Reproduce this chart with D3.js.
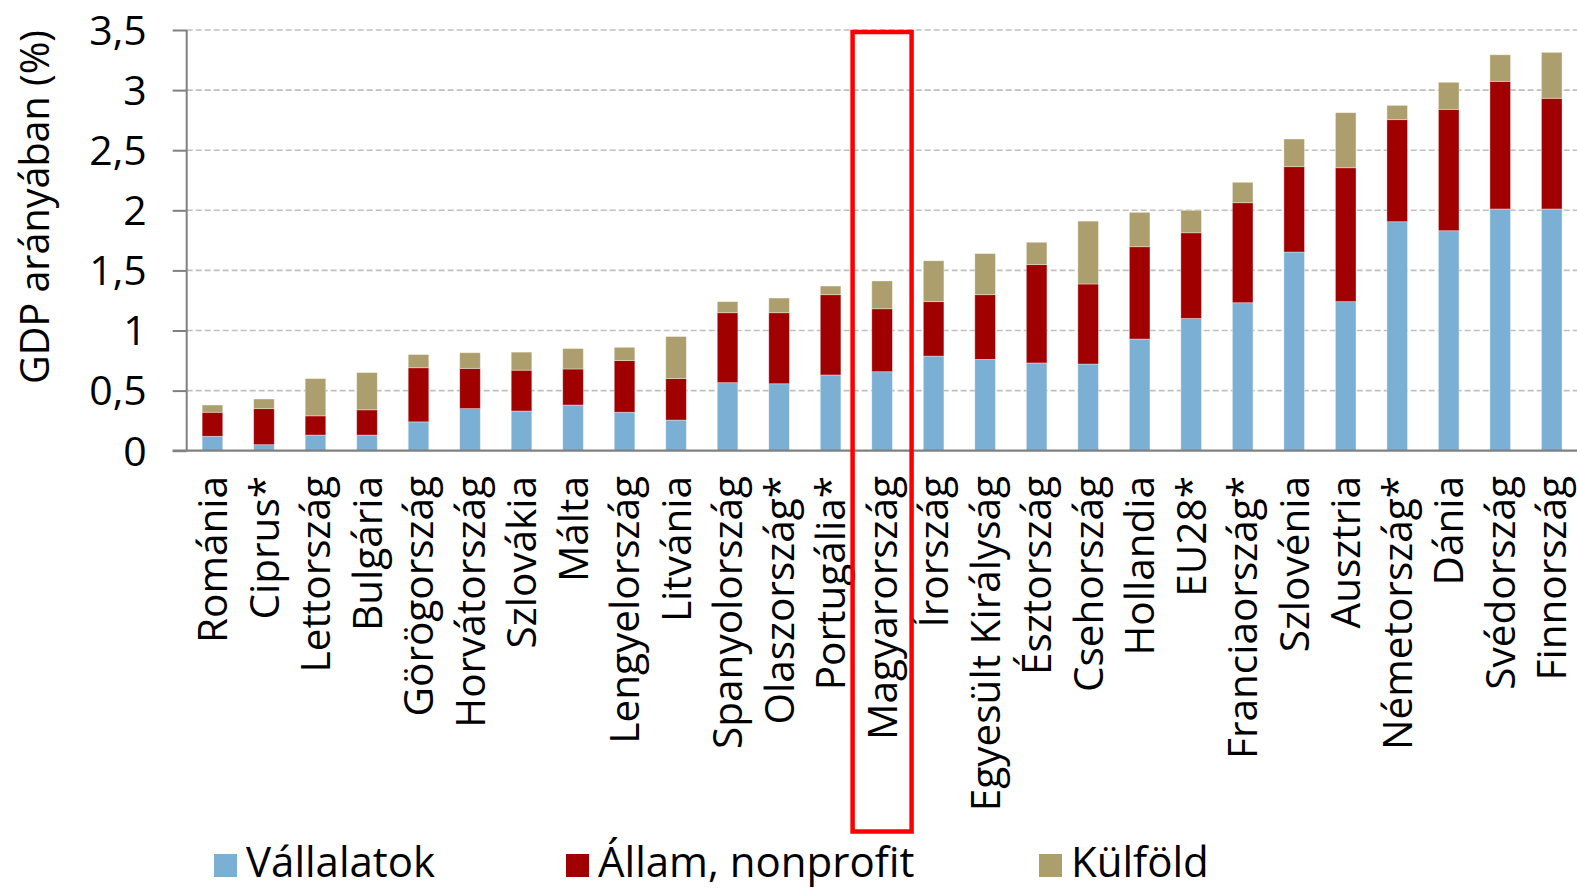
<!DOCTYPE html>
<html>
<head>
<meta charset="utf-8">
<script src="https://cdn.jsdelivr.net/npm/d3@7"></script>
<style>
  html, body { margin: 0; padding: 0; background: #fff; }
  svg { display: block; }
  text { font-family: "Open Sans", sans-serif; fill: #000; }
</style>
</head>
<body>
<svg id="chart" width="1577" height="888"></svg>
<script>
const categories = ["Románia","Ciprus*","Lettország","Bulgária","Görögország","Horvátország","Szlovákia","Málta","Lengyelország","Litvánia","Spanyolország","Olaszország*","Portugália*","Magyarország","Írország","Egyesült Királyság","Észtország","Csehország","Hollandia","EU28*","Franciaország*","Szlovénia","Ausztria","Németország*","Dánia","Svédország","Finnország"];
const vallalatok = [0.12,0.05,0.13,0.13,0.24,0.35,0.33,0.38,0.32,0.255,0.566,0.557,0.63,0.657,0.787,0.76,0.73,0.721,0.929,1.10,1.231,1.653,1.24,1.905,1.83,2.011,2.011];
const allam      = [0.20,0.30,0.16,0.21,0.45,0.335,0.34,0.30,0.43,0.345,0.582,0.591,0.668,0.524,0.453,0.538,0.818,0.666,0.768,0.713,0.832,0.71,1.114,0.849,1.01,1.062,0.921];
const kulfold    = [0.06,0.08,0.31,0.31,0.11,0.13,0.15,0.17,0.11,0.35,0.092,0.122,0.072,0.231,0.34,0.342,0.186,0.523,0.286,0.187,0.17,0.23,0.458,0.119,0.225,0.221,0.382];
const seriesNames = ["Vállalatok","Állam, nonprofit","Külföld"];
const seriesColors = ["#7bafd4","#a00000","#ad9f6d"];
const yTicks = [0,0.5,1,1.5,2,2.5,3,3.5];
const highlighted = "Magyarország";

const svg = d3.select("#chart");
const x0 = 186.7, x1 = 1577.5, yBase = 450.7, yTop = 30;

const x = d3.scaleBand().domain(categories).range([x0, x1]).paddingInner(0.6).paddingOuter(0.3);
const y = d3.scaleLinear().domain([0, 3.5]).range([yBase, yTop]);

const table = categories.map((c, i) => ({cat: c, s0: vallalatok[i], s1: allam[i], s2: kulfold[i]}));
const stack = d3.stack().keys(["s0","s1","s2"])(table);

// gridlines
svg.append("g").selectAll("line").data(yTicks.filter(t => t > 0)).join("line")
  .attr("x1", x0).attr("x2", x1)
  .attr("y1", d => y(d)).attr("y2", d => y(d))
  .attr("stroke", "#c0c0c0").attr("stroke-width", 1.6).attr("stroke-dasharray", "6,3");

// bars
svg.append("g").selectAll("g").data(stack).join("g")
  .attr("fill", (d, i) => seriesColors[i])
  .selectAll("rect").data(d => d).join("rect")
  .attr("x", d => x(d.data.cat))
  .attr("width", x.bandwidth())
  .attr("y", d => y(d[1]))
  .attr("height", d => y(d[0]) - y(d[1]))
  .attr("stroke", "rgba(255,255,255,0.45)").attr("stroke-width", 0.8);

// y axis
const yAxis = d3.axisLeft(y).tickValues(yTicks).tickSize(14).tickPadding(26)
  .tickFormat(d => d3.format("")(d).replace(".", ","));
const gy = svg.append("g").attr("transform", `translate(${x0},0)`).call(yAxis);
gy.select(".domain").attr("stroke", "#808080").attr("stroke-width", 2).attr("d", `M0,${yTop}V${yBase}`);
gy.selectAll(".tick line").attr("stroke", "#808080").attr("stroke-width", 2);
gy.selectAll(".tick text").attr("font-family", "Open Sans").attr("font-size", 41).attr("fill", "#000").attr("dy", "0.35em");

// x axis line
svg.append("line").attr("x1", x0 - 14).attr("x2", x1).attr("y1", yBase).attr("y2", yBase)
  .attr("stroke", "#808080").attr("stroke-width", 2.2);

// category labels
svg.append("g").selectAll("text").data(categories).join("text")
  .attr("transform", d => `translate(${x(d) + x.bandwidth() / 2},476) rotate(-90)`)
  .attr("text-anchor", "end").attr("dy", "0.36em")
  .attr("font-size", 40.5)
  .text(d => d);

// y axis title
svg.append("text")
  .attr("transform", `translate(35,${(30 + 384) / 2}) rotate(-90)`)
  .attr("text-anchor", "middle").attr("dy", "0.35em")
  .attr("font-size", 39.5)
  .text("GDP arányában (%)");

// highlight box
const hx = x(highlighted), hw = x.bandwidth();
svg.append("rect")
  .attr("x", hx + hw / 2 - 29.5).attr("y", 32)
  .attr("width", 59).attr("height", 799.5)
  .attr("fill", "none").attr("stroke", "#ff0000").attr("stroke-width", 4.5);

// legend
const legendX = [214, 566, 1039];
const lg = svg.append("g").selectAll("g").data(seriesNames).join("g")
  .attr("transform", (d, i) => `translate(${legendX[i]},854)`);
lg.append("rect").attr("width", 23).attr("height", 23).attr("fill", (d, i) => seriesColors[i]);
lg.append("text").attr("x", 32).attr("y", 23).attr("font-size", 42).text(d => d);
</script>
</body>
</html>
